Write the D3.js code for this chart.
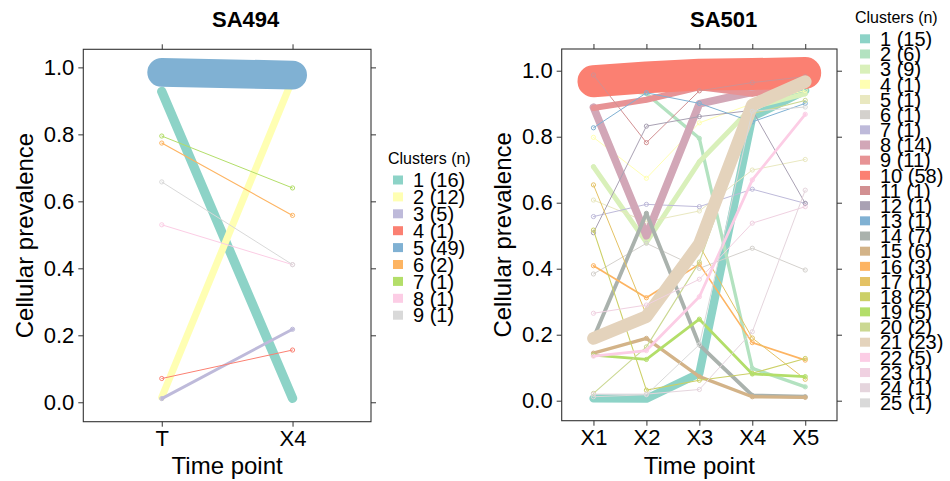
<!DOCTYPE html>
<html>
<head>
<meta charset="utf-8">
<script src="https://cdn.jsdelivr.net/npm/d3@7"></script>
<style>
  body { margin: 0; background: #fff; }
  svg text { font-family: "Liberation Sans", Arial, sans-serif; fill: #000; }
</style>
</head>
<body>
<svg id="chart" width="950" height="481"></svg>
<script>
// ---- data ----
var sa494Times = ["T", "X4"];
var sa494Clusters = [1, 2, 3, 4, 5, 6, 7, 8, 9];
var sa494N = [16, 12, 5, 1, 49, 2, 1, 1, 1];
var sa494Prev = [
  [0.928, 0.012],
  [0.015, 0.965],
  [0.011, 0.218],
  [0.071, 0.156],
  [0.985, 0.977],
  [0.774, 0.558],
  [0.795, 0.640],
  [0.530, 0.411],
  [0.658, 0.411]
];

var sa501Times = ["X1", "X2", "X3", "X4", "X5"];
var sa501Clusters = d3.range(1, 26);
var sa501N = [15, 6, 9, 1, 1, 1, 1, 14, 11, 58, 1, 1, 1, 7, 6, 3, 1, 2, 5, 2, 23, 5, 1, 1, 1];
var sa501Prev = [
  [0.007, 0.006, 0.083, 0.860, 0.940],
  [0.960, 0.930, 0.795, 0.098, 0.042],
  [0.709, 0.480, 0.724, 0.890, 0.930],
  [0.798, 0.674, 0.842, 0.900, 0.940],
  [0.608, 0.542, 0.575, 0.699, 0.731],
  [0.384, 0.477, 0.401, 0.462, 0.396],
  [0.558, 0.595, 0.588, 0.641, 0.598],
  [0.889, 0.500, 0.900, 0.935, 0.960],
  [0.887, 0.912, 0.950, 0.930, 0.960],
  [0.968, 0.980, 0.988, 0.990, 0.993],
  [0.987, 0.782, 0.939, 0.964, 0.982],
  [0.509, 0.832, 0.861, 0.880, 0.598],
  [0.827, 0.933, 0.901, 0.845, 0.901],
  [0.190, 0.568, 0.169, 0.016, 0.012],
  [0.144, 0.189, 0.073, 0.012, 0.010],
  [0.409, 0.312, 0.414, 0.176, 0.123],
  [0.654, 0.260, 0.470, 0.190, 0.065],
  [0.517, 0.032, 0.062, 0.083, 0.128],
  [0.138, 0.125, 0.247, 0.081, 0.073],
  [0.022, 0.163, 0.420, 0.870, 0.910],
  [0.189, 0.255, 0.475, 0.896, 0.967],
  [0.135, 0.152, 0.315, 0.669, 0.868],
  [0.265, 0.290, 0.368, 0.538, 0.588],
  [0.020, 0.020, 0.034, 0.209, 0.638],
  [0.012, 0.018, 0.170, 0.877, 0.890]
];

var yTicks = [0, 0.2, 0.4, 0.6, 0.8, 1.0];

// Set3 (first 9) and a 25-step ramp through it
var set3 = ["#8DD3C7", "#FFFFB3", "#BEBADA", "#FB8072", "#80B1D3", "#FDB462", "#B3DE69", "#FCCDE5", "#D9D9D9"];
var ramp = d3.piecewise(d3.interpolateRgb, set3);
var set3x25 = d3.range(25).map(function(i) { return ramp(i / 24); });

var svg = d3.select("#chart");
svg.append("rect").attr("width", 950).attr("height", 481).attr("fill", "#fff");

function drawPanel(o) {
  var g = svg.append("g");

  var x = d3.scalePoint().domain(o.times).range([o.x0, o.x1]).padding(0.6);
  var y = d3.scaleLinear().domain(o.yDomain).range([o.y1, o.y0]);

  var series = o.clusters.map(function(c, i) {
    return { id: c, n: o.n[i], vals: o.prev[i], color: o.colors[i] };
  });

  // frame
  g.append("rect")
    .attr("x", o.x0).attr("y", o.y0)
    .attr("width", o.x1 - o.x0).attr("height", o.y1 - o.y0)
    .attr("fill", "none").attr("stroke", "#333").attr("stroke-width", 1.1);

  // axes, ticks outward on all four sides
  var axL = d3.axisLeft(y).tickValues(yTicks).tickFormat(d3.format(".1f")).tickSize(5).tickPadding(4);
  var axR = d3.axisRight(y).tickValues(yTicks).tickFormat("").tickSize(5);
  var axB = d3.axisBottom(x).tickSize(5).tickPadding(4);
  var axT = d3.axisTop(x).tickFormat("").tickSize(5);

  [[axL, "translate(" + o.x0 + ",0)"], [axR, "translate(" + o.x1 + ",0)"],
   [axB, "translate(0," + o.y1 + ")"], [axT, "translate(0," + o.y0 + ")"]].forEach(function(a) {
    var ag = g.append("g").attr("transform", a[1]).call(a[0]);
    ag.select(".domain").remove();
    ag.selectAll("line").attr("stroke", "#333");
    ag.selectAll("text").attr("font-family", "Liberation Sans, Arial, sans-serif")
      .attr("font-size", "22px").attr("fill", "#000");
  });

  // one group per cluster: line (width by cluster size) then its hollow points
  var line = d3.line()
    .x(function(d, i) { return x(o.times[i]); })
    .y(function(d) { return y(d); });

  var cl = g.selectAll(".cluster")
    .data(series)
    .enter()
    .append("g")
    .attr("class", "cluster");

  cl.append("path")
    .attr("d", function(d) { return line(d.vals); })
    .attr("fill", "none")
    .attr("stroke", function(d) { return d.color; })
    .attr("stroke-width", function(d) { return Math.max(1, d.n * o.k); })
    .attr("stroke-linecap", "round")
    .attr("stroke-linejoin", "round");

  cl.each(function(s) {
    d3.select(this).selectAll("circle")
      .data(s.vals)
      .enter()
      .append("circle")
      .attr("cx", function(d, i) { return x(o.times[i]); })
      .attr("cy", function(d) { return y(d); })
      .attr("r", 2.1)
      .attr("fill", "none")
      .attr("stroke", s.color)
      .attr("stroke-width", 1);
  });

  // titles
  g.append("text")
    .attr("x", o.titleX).attr("y", 27)
    .attr("font-size", "22px").attr("font-weight", "bold")
    .text(o.title);

  g.append("text")
    .attr("transform", "translate(" + (o.x0 - 59) + "," + ((o.y0 + o.y1) / 2) + ") rotate(-90)")
    .attr("text-anchor", "middle").attr("dy", "0.35em")
    .attr("font-size", "24px")
    .text("Cellular prevalence");

  g.append("text")
    .attr("x", (o.x0 + o.x1) / 2).attr("y", 474)
    .attr("text-anchor", "middle")
    .attr("font-size", "24px")
    .text("Time point");

  // legend
  var lg = g.append("g");
  lg.append("text")
    .attr("x", o.legX - 5).attr("y", o.legTitleY)
    .attr("font-size", "16px")
    .text("Clusters (n)");

  var row = lg.selectAll(".key")
    .data(series)
    .enter()
    .append("g")
    .attr("class", "key")
    .attr("transform", function(d, i) { return "translate(" + o.legX + "," + (o.legY0 + i * o.legStep) + ")"; });

  row.append("rect")
    .attr("x", 0).attr("y", -4.5)
    .attr("width", 10).attr("height", 9)
    .attr("fill", function(d) { return d.color; });

  row.append("text")
    .attr("x", 20).attr("dy", "0.36em")
    .attr("font-size", "20px")
    .text(function(d) { return d.id + " (" + d.n + ")"; });
}

drawPanel({
  title: "SA494", titleX: 212,
  times: sa494Times, clusters: sa494Clusters, n: sa494N, prev: sa494Prev,
  colors: set3,
  x0: 83.3, x1: 371, y0: 49.3, y1: 421.7, yDomain: [-0.058, 1.054],
  k: 0.59,
  legX: 393, legTitleY: 164, legY0: 180, legStep: 16.9
});

drawPanel({
  title: "SA501", titleX: 690,
  times: sa501Times, clusters: sa501Clusters, n: sa501N, prev: sa501Prev,
  colors: set3x25,
  x0: 561.7, x1: 837, y0: 49, y1: 420.7, yDomain: [-0.0606, 1.0658],
  k: 0.55,
  legX: 860, legTitleY: 23, legY0: 38.8, legStep: 15.17
});
</script>
</body>
</html>
